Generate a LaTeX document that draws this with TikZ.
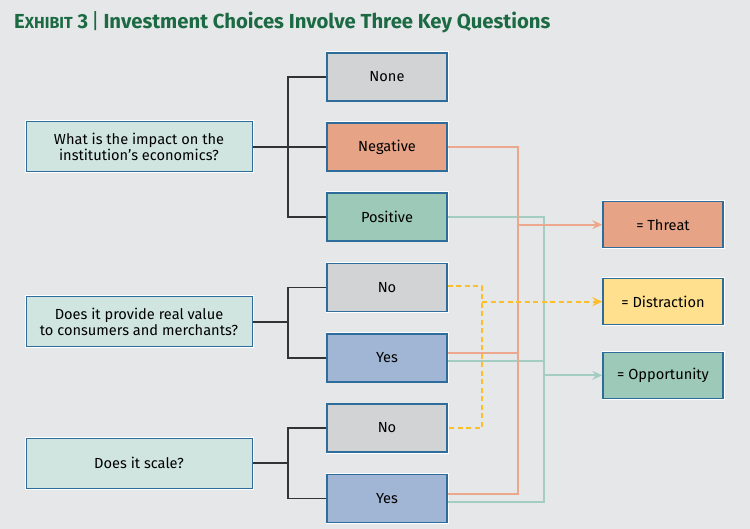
\documentclass[tikz,border=0pt]{standalone}
\usepackage{fontspec}
\setmainfont{Fira Sans}
\usetikzlibrary{arrows.meta}
\definecolor{bg}{HTML}{E6E7E8}
\definecolor{titlegreen}{HTML}{1B6A43}
\definecolor{boxblue}{HTML}{2E6C9C}
\definecolor{qfill}{HTML}{D0E5DF}
\definecolor{grayfill}{HTML}{D1D3D4}
\definecolor{negfill}{HTML}{E6A386}
\definecolor{posfill}{HTML}{9DC9B9}
\definecolor{yesfill}{HTML}{A1B6D4}
\definecolor{distfill}{HTML}{FFE08F}
\definecolor{orangeline}{HTML}{EBA88C}
\definecolor{tealline}{HTML}{A3CDC1}
\definecolor{yellowline}{HTML}{FDBE2A}
\definecolor{bracket}{HTML}{333333}
\begin{document}
\begin{tikzpicture}[x=1pt,y=-1pt,
  basebox/.style={draw=boxblue, preaction={draw=white, line width=3pt}, inner sep=0pt, align=center,
    font=\fontsize{14.6}{16.5}\selectfont, text=black},
  qbox/.style={basebox, fill=qfill, line width=1pt, minimum width=226pt, minimum height=50pt},
  abox/.style={basebox, line width=1.4pt, minimum width=120pt, minimum height=48pt},
  rbox/.style={basebox, line width=1.4pt, minimum width=120pt, minimum height=46pt},
  brk/.style={draw=bracket, line width=1.3pt},
  oline/.style={draw=orangeline, line width=2pt},
  tline/.style={draw=tealline, line width=2pt},
  yline/.style={draw=yellowline, line width=2pt, dash pattern=on 5pt off 3.5pt},
  tip/.style={-{Stealth[length=10pt,width=9pt,inset=3.5pt]}}
]
\fill[bg] (0,0) rectangle (750,529);
\useasboundingbox (0,0) rectangle (750,529);

% title
\node[anchor=base west, inner sep=0pt, text=titlegreen, font=\bfseries\fontsize{20.3}{22}\selectfont] (title) at (14,29)
  {E{\fontsize{16}{16}\selectfont XHIBIT} 3\hspace{3pt}{\mdseries\fontsize{21}{22}\selectfont |}\hspace{4pt}Investment Choices Involve Three Key Questions};

% question boxes
\node[qbox] (q1) at (139,147) {What is the impact on the\\institution’s economics?};
\node[qbox] (q2) at (139,322) {Does it provide real value\\to consumers and merchants?};
\node[qbox] (q3) at (139,463) {Does it scale?};

% answer boxes
\node[abox, fill=grayfill] (none) at (387,77) {None};
\node[abox, fill=negfill] (neg) at (387,147) {Negative};
\node[abox, fill=posfill] (pos) at (387,217) {Positive};
\node[abox, fill=grayfill] (no1) at (387,287.5) {No};
\node[abox, fill=yesfill] (yes1) at (387,358) {Yes};
\node[abox, fill=grayfill] (no2) at (387,428) {No};
\node[abox, fill=yesfill] (yes2) at (387,498.5) {Yes};

% result boxes
\node[rbox, fill=negfill] (threat) at (663,224.7) {= Threat};
\node[rbox, fill=distfill] (dist) at (663,301.7) {= Distraction};
\node[rbox, fill=posfill] (opp) at (663,375.3) {= Opportunity};

% brackets
\coordinate (b1) at (288,147);
\coordinate (b2) at (288,322);
\coordinate (b3) at (288,463);
\draw[brk] (q1.east) -- (b1);
\draw[brk] (none.west) -| (b1) |- (pos.west);
\draw[brk] (b1) -- (neg.west);
\draw[brk] (q2.east) -- (b2);
\draw[brk] (no1.west) -| (b2) |- (yes1.west);
\draw[brk] (q3.east) -- (b3);
\draw[brk] (no2.west) -| (b3) |- (yes2.west);

% coordinates for outcome lines
\coordinate (otop) at (518,147);
\coordinate (obot) at (518,494);
\coordinate (oy1) at (518,353);
\coordinate (oarr) at (518,224.7);
\coordinate (ttop) at (544,217);
\coordinate (tbot) at (544,501.5);
\coordinate (ty1) at (544,361);
\coordinate (tarr) at (544,375.3);
\coordinate (ytop) at (482,286);
\coordinate (ybot) at (482,428);
\coordinate (yarr) at (482,301.7);

% teal lines
\draw[tline] (pos.east) -- (ttop) -- (tbot) -- (yes2.east |- tbot);
\draw[tline] (yes1.east |- ty1) -- (ty1);
\draw[tline, tip] (tarr) -- (opp.west);

% orange lines
\draw[oline] (neg.east) -- (otop) -- (obot) -- (yes2.east |- obot);
\draw[oline] (yes1.east |- oy1) -- (oy1);
\draw[oline, tip] (oarr) -- (threat.west);

% yellow dashed lines
\draw[yline] (no1.east |- ytop) -- (ytop) -- (ybot) -- (no2.east |- ybot);
\draw[yline, tip] (yarr) -- (dist.west);
\end{tikzpicture}
\end{document}
